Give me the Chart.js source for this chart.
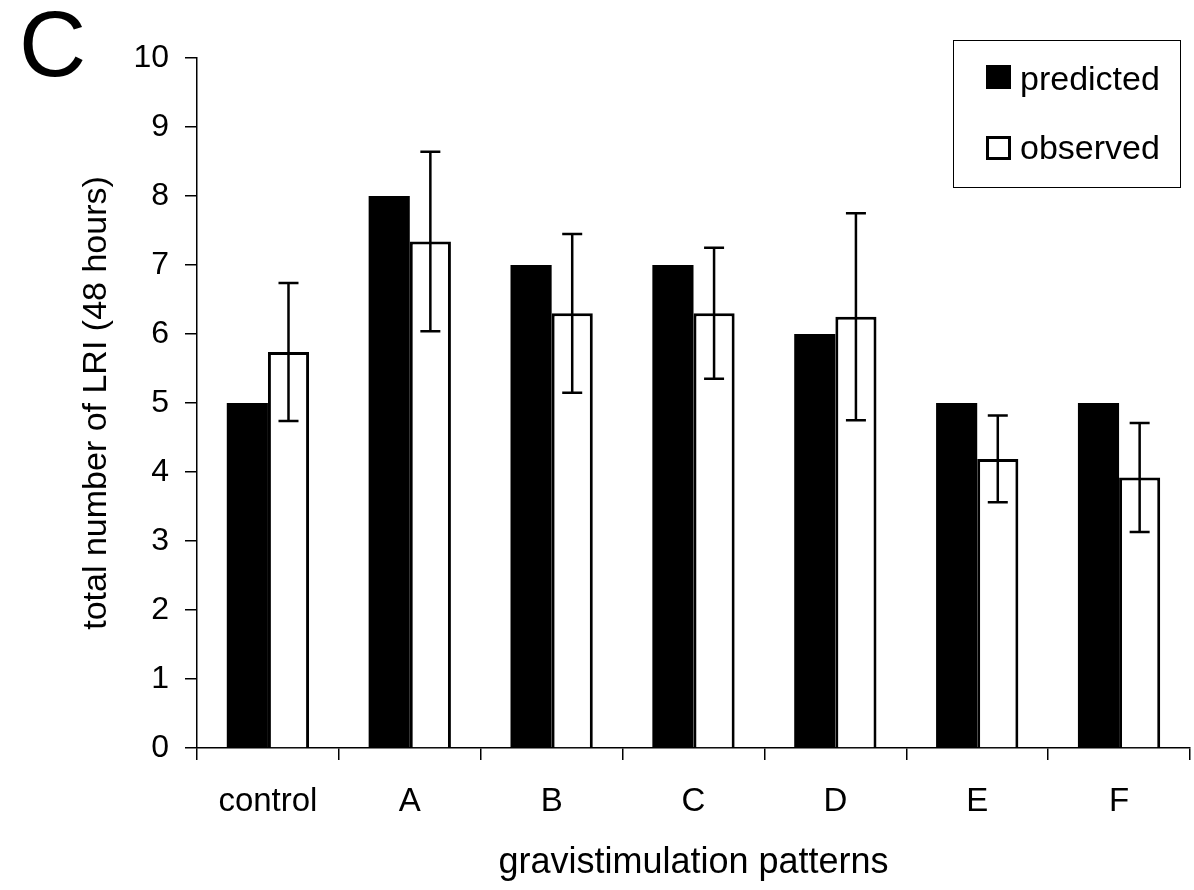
<!DOCTYPE html>
<html>
<head>
<meta charset="utf-8">
<script src="https://cdn.jsdelivr.net/npm/chart.js@4/dist/chart.umd.min.js"></script>
<style>
  html, body { margin: 0; padding: 0; background: #fff; }
  #wrap { position: relative; width: 1194px; height: 890px; font-family: 'Liberation Sans', Arial, sans-serif; }
  #panel { position: absolute; left: 19px; top: -2px; font-size: 93px; line-height: 1; color: #000; }
  #legend { position: absolute; left: 953px; top: 40px; width: 228px; height: 148px; border: 1.5px solid #000; box-sizing: border-box; }
  .sw { position: absolute; left: 32px; width: 25px; height: 24px; box-sizing: border-box; border: 3px solid #000; }
  .txt { position: absolute; left: 66px; font-size: 34px; line-height: 1; color: #000; white-space: nowrap; }
</style>
</head>
<body>
<div id="wrap">
  <canvas id="barChart" width="1194" height="890"></canvas>
  <div id="panel">C</div>
  <div id="legend"></div>
</div>
<script>
(function() {
  'use strict';

  // data
  var categories = ['control', 'A', 'B', 'C', 'D', 'E', 'F'];
  var predicted = [5, 8, 7, 7, 6, 5, 5];
  var observed = [5.74, 7.34, 6.3, 6.3, 6.25, 4.19, 3.92];
  var observedErr = [1.0, 1.3, 1.15, 0.95, 1.5, 0.63, 0.79];
  var yTicks = [0, 1, 2, 3, 4, 5, 6, 7, 8, 9, 10];
  var seriesNames = ['predicted', 'observed'];

  var font = "'Liberation Sans', Arial, sans-serif";

  // legend box, as in the original figure
  var legend = document.getElementById('legend');
  seriesNames.forEach(function(name, i) {
    var sw = document.createElement('div');
    sw.className = 'sw';
    sw.style.top = (i === 0 ? 24 : 95) + 'px';
    sw.style.background = i === 0 ? '#000' : '#fff';
    legend.appendChild(sw);
    var txt = document.createElement('div');
    txt.className = 'txt';
    txt.style.top = (i === 0 ? 20 : 89) + 'px';
    txt.textContent = name;
    legend.appendChild(txt);
  });

  /** error bars on the observed series */
  var errorBars = {
    id: 'errorBars',
    afterDatasetsDraw: function(chart) {
      var meta = chart.getDatasetMeta(1);
      var y = chart.scales.y;
      var ctx = chart.ctx;
      ctx.save();
      ctx.strokeStyle = '#000';
      ctx.lineWidth = 2.5;
      meta.data.forEach(function(bar, i) {
        var top = y.getPixelForValue(observed[i] + observedErr[i]);
        var bot = y.getPixelForValue(observed[i] - observedErr[i]);
        ctx.beginPath();
        ctx.moveTo(bar.x, top); ctx.lineTo(bar.x, bot);
        ctx.moveTo(bar.x - 10, top); ctx.lineTo(bar.x + 10, top);
        ctx.moveTo(bar.x - 10, bot); ctx.lineTo(bar.x + 10, bot);
        ctx.stroke();
      });
      ctx.restore();
    }
  };

  var ctx = document.getElementById('barChart').getContext('2d');
  new Chart(ctx, {
    type: 'bar',
    data: {
      labels: categories,
      datasets: [{
        label: seriesNames[0],
        data: predicted,
        backgroundColor: '#000',
        borderWidth: 0,
        categoryPercentage: 0.58,
        barPercentage: 1.0
      }, {
        label: seriesNames[1],
        data: observed,
        backgroundColor: '#fff',
        borderColor: '#000',
        borderWidth: 3,
        borderSkipped: 'bottom',
        categoryPercentage: 0.58,
        barPercentage: 1.0
      }]
    },
    options: {
      responsive: false,
      animation: false,
      layout: { padding: { top: 58, right: 4, bottom: 0, left: 0 } },
      plugins: { legend: { display: false }, tooltip: { enabled: false } },
      scales: {
        x: {
          offset: true,
          afterFit: function(s) { s.height = 142; },
          border: { color: '#000', width: 1.5 },
          grid: { drawOnChartArea: false, color: '#000', tickLength: 12, lineWidth: 1.5, offset: true },
          ticks: { color: '#000', font: { family: font, size: 33 }, padding: 22 },
          title: { display: true, text: 'gravistimulation patterns', color: '#000', font: { family: font, size: 36 }, padding: { bottom: 5 } }
        },
        y: {
          min: 0, max: 10,
          afterFit: function(s) { s.width = 197; },
          afterBuildTicks: function(s) { s.ticks = yTicks.map(function(v) { return { value: v }; }); },
          border: { color: '#000', width: 1.5 },
          grid: { drawOnChartArea: false, color: '#000', tickLength: 12, lineWidth: 1.5 },
          ticks: { color: '#000', font: { family: font, size: 32 }, padding: 16 },
          title: { display: true, text: 'total number of LRI (48 hours)', color: '#000', font: { family: font, size: 34 }, padding: { top: 76 } }
        }
      }
    },
    plugins: [errorBars]
  });
})();
</script>
</body>
</html>
